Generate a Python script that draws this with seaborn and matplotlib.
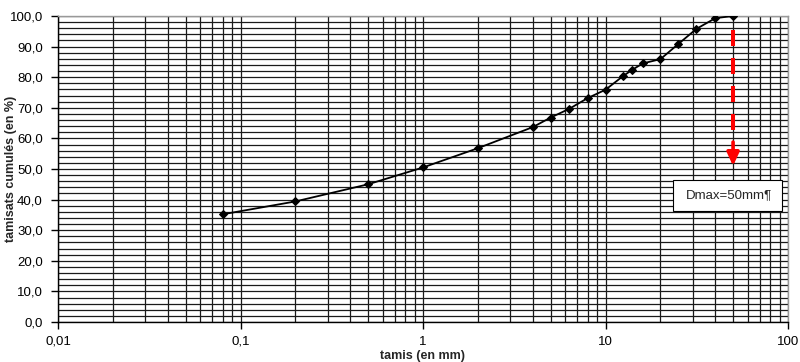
import matplotlib
matplotlib.use("Agg")
import matplotlib.pyplot as plt
import matplotlib.ticker as mticker
from matplotlib.patches import Rectangle
import seaborn as sns
import pandas as pd
import numpy as np

sieve_mm = [0.08, 0.2, 0.5, 1, 2, 4, 5, 6.3, 8, 10, 12.5, 14, 16, 20, 25, 31.5, 40, 50]
passing_pct = [35.2, 39.4, 45.0, 50.5, 56.8, 63.7, 66.8, 69.6, 73.2, 75.9, 80.4, 82.4, 84.5, 85.9, 90.8, 95.8, 99.3, 100.0]
x_ticks = [0.01, 0.1, 1, 10, 100]
x_tick_labels = ["0,01", "0,1", "1", "10", "100"]
dmax = 50
annotation = "Dmax=50mm¶"

sns.set_theme(style="white")
plt.rcParams['font.family'] = ['Liberation Sans', 'DejaVu Sans']

df = pd.DataFrame({"tamis": sieve_mm, "passant": passing_pct})

fig = plt.figure(figsize=(8, 3.62), dpi=100)
ax = fig.add_axes([58/800, 1 - 322/362, (788-58)/800, (322-16)/362])

ax.set_xscale("log")
ax.set_xlim(0.01, 100)
ax.set_ylim(0, 100)

# grid
ax.xaxis.set_major_locator(mticker.FixedLocator(x_ticks))
ax.xaxis.set_minor_locator(mticker.LogLocator(base=10, subs=np.arange(2, 10)))
ax.xaxis.set_minor_formatter(mticker.NullFormatter())
ax.set_xticklabels(x_tick_labels)
ax.yaxis.set_major_locator(mticker.MultipleLocator(10))
ax.yaxis.set_minor_locator(mticker.MultipleLocator(2))
ax.yaxis.set_major_formatter(mticker.FuncFormatter(lambda v, p: f"{v:.1f}".replace(".", ",")))
ax.grid(which="both", axis="both", color="#1a1a1a", linewidth=0.9)
ax.set_axisbelow(True)

sns.lineplot(data=df, x="tamis", y="passant", ax=ax, color="black", marker="D",
             markersize=4, linewidth=1.3, markeredgecolor="black", zorder=5)

# red dashed arrow
ax.plot([dmax, dmax], [95.4, 62.7], color="red", linewidth=2.9, dashes=(3.97, 2.98),
        solid_capstyle="butt", dash_capstyle="butt", zorder=6)
ax.annotate("", xy=(dmax, 51.0), xytext=(dmax, 58.8),
            arrowprops=dict(arrowstyle="-|>,head_width=0.3,head_length=0.65", color="red", lw=2.6,
                            shrinkA=0, shrinkB=0),
            zorder=6)

# text box
ax.add_patch(Rectangle((23.4, 36.3), 92.7 - 23.4, 46.4 - 36.3, facecolor="white",
                       edgecolor="black", linewidth=0.8, zorder=7))
ax.text(27.6, 41.5, annotation, fontsize=9.5, va="center", ha="left", zorder=8)

for s in ["left", "bottom"]:
    ax.spines[s].set_color("black")
    ax.spines[s].set_linewidth(1)
for s in ["top", "right"]:
    ax.spines[s].set_color("#999999")
    ax.spines[s].set_linewidth(1)

ax.tick_params(axis="both", which="major", direction="out", length=5, width=1, color="black",
               labelsize=9.5, labelcolor="black", left=True, bottom=True, pad=6)
ax.tick_params(axis="x", which="major", pad=5)
ax.tick_params(axis="both", which="minor", length=0)

ax.set_xlabel("tamis (en mm)", fontsize=9, fontweight="bold")
ax.set_ylabel("tamisats cumulés (en %)", fontsize=9, fontweight="bold")
ax.xaxis.set_label_coords((423 - 58) / 730, -(356 - 322) / 306)
ax.yaxis.set_label_coords(-(58 - 11) / 730, 0.5)
ax.xaxis.label.set_va("center")
ax.yaxis.label.set_va("center")

fig.savefig("out.png", dpi=100)
